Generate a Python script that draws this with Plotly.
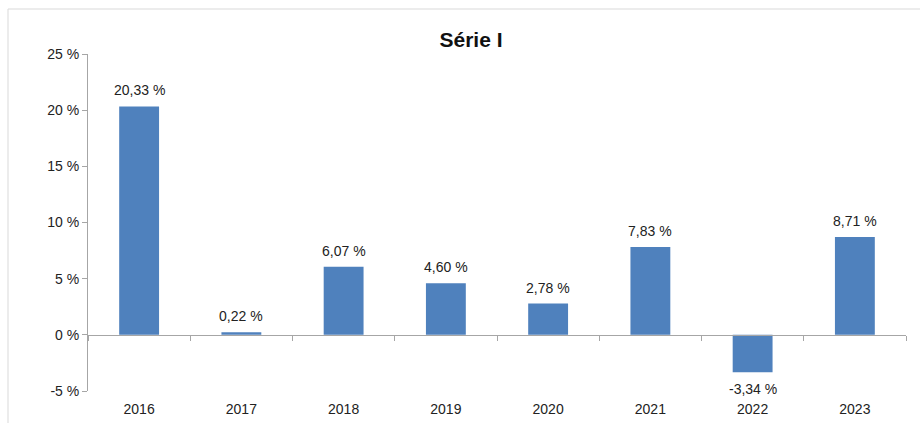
import plotly.graph_objects as go

years = ["2016", "2017", "2018", "2019", "2020", "2021", "2022", "2023"]
values = [20.33, 0.22, 6.07, 4.60, 2.78, 7.83, -3.34, 8.71]
y_ticks = [-5, 0, 5, 10, 15, 20, 25]

idx = list(range(len(years)))
FONT = "Liberation Sans, Arial, sans-serif"
TXT = "#222222"
GRID = "#A6A6A6"

fig = go.Figure()
fig.add_trace(go.Bar(
    x=idx, y=values, width=0.39,
    marker=dict(color="#4F81BD", line=dict(width=0)),
    showlegend=False, hoverinfo="y",
))
# invisible trace to host the zero-line axis with category separators
fig.add_trace(go.Scatter(x=[idx[0]], y=[0], xaxis="x2", mode="markers",
                         marker=dict(opacity=0), showlegend=False, hoverinfo="skip"))

annotations = []
for i, v in zip(idx, values):
    annotations.append(dict(
        x=i, y=v, xref="x", yref="y", showarrow=False,
        text=(f"{v:.2f}".replace(".", ",") + " %"),
        yanchor="bottom" if v >= 0 else "top",
        yshift=6 if v >= 0 else -7,
        font=dict(family=FONT, size=14, color=TXT),
    ))

y_min, y_max = y_ticks[0], y_ticks[-1]
n = len(years)
fig.update_layout(
    width=920, height=423,
    margin=dict(l=88, r=14, t=54, b=32, autoexpand=False),
    paper_bgcolor="white", plot_bgcolor="white",
    font=dict(family=FONT, size=14, color=TXT),
    title=dict(text="<b>Série I</b>", xref="container", x=0.512, xanchor="center",
               yref="container", y=1 - 40 / 423, yanchor="middle", automargin=False,
               font=dict(family=FONT, size=21, color="#111111")),
    xaxis=dict(range=[-0.5, n - 0.5], tickvals=idx, ticktext=years, automargin=False,
               showline=False, showgrid=False, zeroline=False, ticks="",
               ticklabelstandoff=8,
               tickfont=dict(family=FONT, size=14, color=TXT)),
    xaxis2=dict(overlaying="x", anchor="free", position=(0 - y_min) / (y_max - y_min),
                range=[-0.5, n - 0.5], tickvals=[i - 0.5 for i in range(n + 1)],
                automargin=False,
                showticklabels=False, showline=True, linecolor=GRID, linewidth=1,
                ticks="outside", ticklen=5, tickcolor=GRID, showgrid=False, zeroline=False),
    yaxis=dict(range=[y_min, y_max], tickvals=y_ticks,
               ticktext=[f"{v} %" for v in y_ticks], automargin=False,
               showline=True, linecolor=GRID, linewidth=1, ticks="outside", ticklen=5,
               tickcolor=GRID, showgrid=False, zeroline=False,
               tickfont=dict(family=FONT, size=14, color=TXT)),
    annotations=annotations,
    shapes=[dict(type="rect", xref="paper", yref="paper",
                 x0=(8 - 88) / 818, x1=(935 - 88) / 818,
                 y0=(391 - 440) / 337, y1=(391 - 9) / 337,
                 line=dict(color="#D9D9D9", width=1), fillcolor="rgba(0,0,0,0)", layer="below")],
)
fig.write_html("out.html", config={"displayModeBar": False})

with open("out.html", encoding="utf-8") as f:
    html = f.read()
html = html.replace("<body>", '<body style="margin:0;padding:0;overflow:hidden">', 1)
with open("out.html", "w", encoding="utf-8") as f:
    f.write(html)
